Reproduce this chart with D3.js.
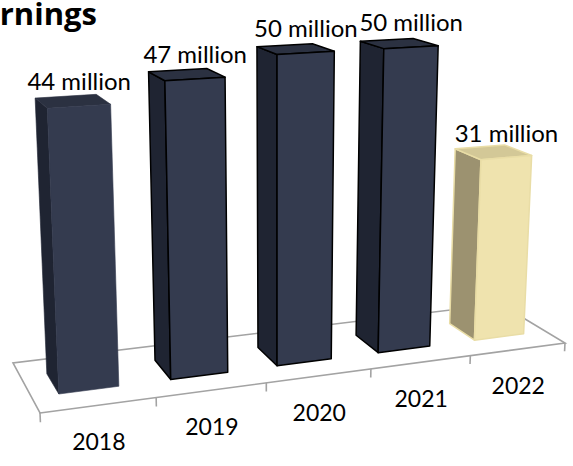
<!DOCTYPE html>
<html><head><meta charset="utf-8">
<script src="https://cdn.jsdelivr.net/npm/d3@7"></script>
<style>body{margin:0;background:#fff;overflow:hidden} svg{display:block}</style>
</head><body><svg id="c" width="573" height="466"></svg>
<script>
// ---- data ----
const title = "Earnings";
const categories = ["2018","2019","2020","2021","2022"];
const values = [44, 47, 50, 50, 31];
const unitSuffix = " million";

// ---- styles ----
const darkFaces = {front:"#343b4f", left:"#1f2432", top:"#2b3141", stroke:"#000"};
const lightFaces = {front:"#efe3ae", left:"#9c9270", top:"#d3c897", stroke:"#e9dda6"};
const barStyle = [
  {...darkFaces, stroke:"none"}, darkFaces, darkFaces, darkFaces, lightFaces
];

// ---- layout (perspective floor + vertical vanishing point) ----
const floorFL=[40,413], floorFR=[565,343], floorBR=[500,304], floorBL=[13,363];
const vertVP=[277,5800];
const depthFront=0.29, depthBack=0.7;

// square->quad homography
const [x0,y0]=floorFL,[x1,y1]=floorFR,[x2,y2]=floorBR,[x3,y3]=floorBL;
const dx1=x1-x2, dx2=x3-x2, dx3=x0-x1+x2-x3;
const dy1=y1-y2, dy2=y3-y2, dy3=y0-y1+y2-y3;
const den=dx1*dy2-dx2*dy1;
const G=(dx3*dy2-dx2*dy3)/den, Hh=(dx1*dy3-dx3*dy1)/den;
const A=x1-x0+G*x1, B=x3-x0+Hh*x3, C=x0;
const D=y1-y0+G*y1, E=y3-y0+Hh*y3, F=y0;
function proj(u,t,v){
  const w=G*u+Hh*v+1-t;
  return [(A*u+B*v+C-t*vertVP[0])/w,(D*u+E*v+F-t*vertVP[1])/w];
}

const x = d3.scaleBand().domain(categories).range([0,1]).paddingInner(0.47).paddingOuter(0.235);
const y = d3.scaleLinear().domain([0,50]).range([0,0.059]);

const svg = d3.select("#c");
const line = d3.line();
const poly = pts => line(pts.map(p=>proj(...p)))+"Z";

// floor
svg.append("path")
  .attr("d", poly([[0,0,0],[1,0,0],[1,0,1],[0,0,1]]))
  .attr("fill","#fff").attr("stroke","#a3a3a3").attr("stroke-width",1.6)
  .attr("stroke-linejoin","miter");

// ticks at category boundaries
const bounds = d3.range(categories.length+1).map(i=>i*x.step());
svg.append("g").selectAll("path").data(bounds).join("path")
  .attr("d", u => line([proj(u,0,0), proj(u,y(-1.45),0)]))
  .attr("stroke","#a3a3a3").attr("stroke-width",1.6);

// bars
const bars = svg.append("g").selectAll("g").data(categories).join("g");
bars.each(function(cat,i){
  const g=d3.select(this), s=barStyle[i];
  const u0=x(cat), u1=u0+x.bandwidth(), t=y(values[i]);
  const z0=depthFront, z1=depthBack;
  const faces=[
    {pts:[[u0,0,z0],[u0,t,z0],[u0,t,z1],[u0,0,z1]], fill:s.left},
    {pts:[[u0,t,z0],[u1,t,z0],[u1,t,z1],[u0,t,z1]], fill:s.top},
    {pts:[[u0,0,z0],[u1,0,z0],[u1,t,z0],[u0,t,z0]], fill:s.front}
  ];
  g.selectAll("path").data(faces).join("path")
    .attr("d",f=>poly(f.pts)).attr("fill",f=>f.fill)
    .attr("stroke",s.stroke==="none"?(f=>f.fill):s.stroke)
    .attr("stroke-width",s.stroke==="none"?0.6:1.5)
    .attr("stroke-linejoin","round");
});

// value labels
svg.append("g").selectAll("text").data(categories).join("text")
  .attr("x",(c,i)=>proj(x(c)+x.bandwidth()/2, y(values[i]), depthFront)[0])
  .attr("y",(c,i)=>proj(x(c)+x.bandwidth()/2, y(values[i]), depthFront)[1]-16)
  .attr("text-anchor","middle")
  .attr("font-family","Lato, 'Open Sans', sans-serif").attr("font-size",24)
  .attr("fill","#000")
  .text((c,i)=>values[i]+unitSuffix);

// category labels
svg.append("g").selectAll("text").data(categories).join("text")
  .attr("x",c=>proj(x(c)+x.bandwidth()/2,0,0)[0])
  .attr("y",c=>proj(x(c)+x.bandwidth()/2,0,0)[1]+45)
  .attr("text-anchor","middle")
  .attr("font-family","Lato, 'Open Sans', sans-serif").attr("font-size",23)
  .attr("fill","#000")
  .text(c=>c);

// title (cut off at the left edge, as in the original)
svg.append("text").attr("x",97).attr("y",25).attr("text-anchor","end")
  .attr("font-family","'Open Sans', Lato, sans-serif").attr("font-weight",700)
  .attr("font-size",31).attr("fill","#000").text(title);
</script></body></html>
